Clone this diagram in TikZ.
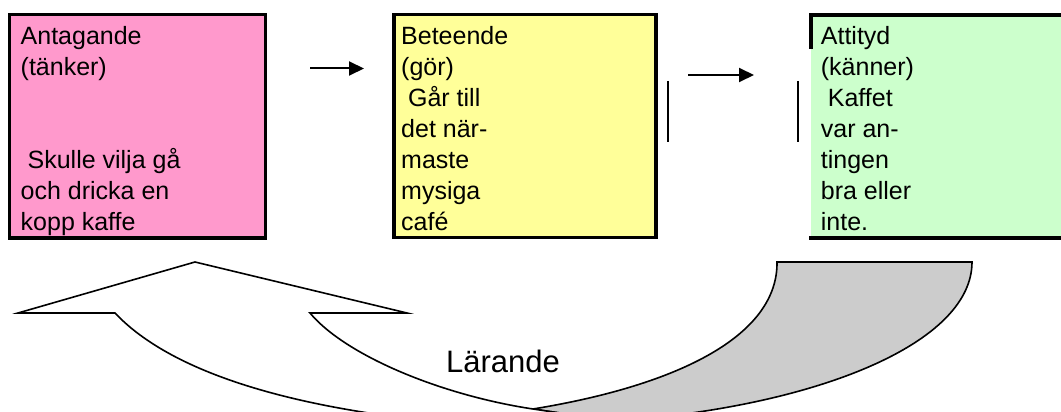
\documentclass[tikz,border=0pt]{standalone}
\usepackage{fontspec}
\setmainfont{Liberation Sans}
\usetikzlibrary{arrows.meta}
\definecolor{pinkfill}{HTML}{FF99CC}
\definecolor{yellowfill}{HTML}{FFFF99}
\definecolor{greenfill}{HTML}{CCFFCC}
\definecolor{backgrey}{HTML}{CCCCCC}

\begin{document}
\begin{tikzpicture}[x=1pt,y=-1pt,
  box/.style={draw=black, line width=3.5pt, outer sep=0pt, inner sep=0pt, anchor=north west},
  boxtext/.style={anchor=north west, inner sep=0pt, align=left, font=\fontsize{25}{31}\selectfont},
  flow/.style={line width=2pt, -{Triangle[length=15pt,width=14pt]}},
  bar/.style={line width=2.7pt},
  band/.style={draw=black, line width=1.6pt, line join=miter}]
\useasboundingbox (0,0) rectangle (1061,412);

% the three boxes
\node[box, fill=pinkfill, minimum width=256pt, minimum height=223.5pt] (ant) at (9.5,14.5) {};
\node[box, fill=yellowfill, minimum width=262pt, minimum height=223pt] (bet) at (394,14.7) {};
\node[box, draw=none, fill=greenfill, minimum width=270pt, minimum height=223pt] (att) at (811,15) {};
\draw[line width=3.5pt, line join=miter] (att.north west) ++(0,34) -- (att.north west) -- (att.north east);
\draw[line width=3.5pt, line cap=rect] (att.south west) -- (att.south east);

% box texts
\node[boxtext] (antT) at (20.5,22.3) {\strut Antagande\\(tänker)\\\mbox{}\\\mbox{}\\\mbox{}\ Skulle vilja gå\\och dricka en\\kopp kaffe};
\node[boxtext] (betT) at (401,22.3) {\strut Beteende\\(gör)\\\mbox{}\ Går till\\det när-\\maste\\mysiga\\café};
\node[boxtext] (attT) at (820.7,22.3) {\strut Attityd\\(känner)\\\mbox{}\ Kaffet\\var an-\\tingen\\bra eller\\inte.};

% small arrows between the boxes
\coordinate (f1a) at (310,68.5);
\coordinate (f1b) at (364,68.5);
\coordinate (f2a) at (688,75);
\coordinate (f2b) at (754,75);
\draw[flow] (f1a) -- (f1b);
\draw[flow] (f2a) -- (f2b);

% vertical strokes
\coordinate (v1a) at (668,81);
\coordinate (v1b) at (668,142);
\coordinate (v2a) at (798,81);
\coordinate (v2b) at (798,142);
\draw[bar] (v1a) -- (v1b);
\draw[bar] (v2a) -- (v2b);

% curved up arrow: shaded back face
\path[band, fill=backgrey] (533,409) .. controls (680,385) and (778,335) .. (777,262)
  -- (972,262) .. controls (972,340) and (830,400) .. (650,418) -- (600,419) -- cycle;
% curved up arrow: front face with head
\path[band, fill=white] (310,313) -- (407,313) -- (195,262) -- (18,313) -- (115,313)
  .. controls (165,366) and (270,405) .. (440,422) -- (600,440) -- (600,419) -- (533,409)
  .. controls (440,395) and (345,355) .. (310,313) -- cycle;

\node[anchor=base west, inner sep=0pt, font=\fontsize{31}{37}\selectfont] (lar) at (446,372) {Lärande};
\end{tikzpicture}
\end{document}
